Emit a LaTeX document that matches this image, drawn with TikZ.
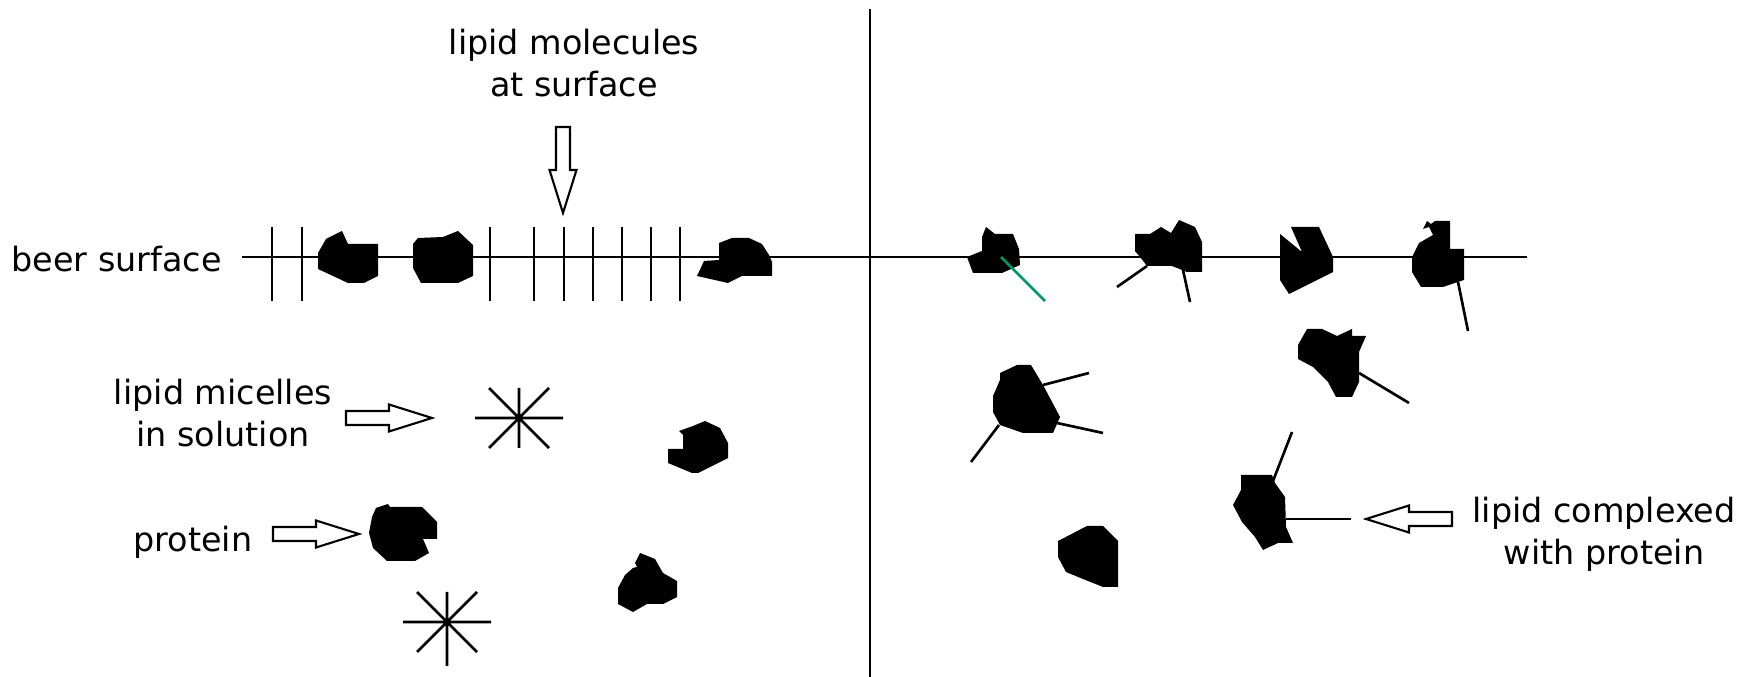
\documentclass[tikz,border=0pt]{standalone}
\usepackage{fontspec}
\setmainfont{DejaVu Sans}
\definecolor{tailgreen}{RGB}{0,153,102}

\begin{document}
\begin{tikzpicture}[x=0.01cm,y=-0.01cm,line width=0.75pt,
		lbl/.style={inner sep=0pt,align=center,font=\fontsize{9.5}{11.9}\selectfont},
		hollow/.pic={\draw[line width=0.6pt,fill=white] (0,0) -- (-43,-13.5) -- (-43,-7) -- (-86,-7) -- (-86,7) -- (-43,7) -- (-43,13.5) -- cycle;}]
	\useasboundingbox (0,0) rectangle (1743,677);
	
	\node[lbl,anchor=base east] (beer) at (223,272) {beer surface};
	\node[lbl] (micelles) at (223,413) {lipid micelles\\in solution};
	\node[lbl,anchor=base] (prot) at (193,552) {protein};
	\node[lbl] (molecules) at (574,63) {lipid molecules\\at surface};
	\node[lbl] (complexed) at (1604,534) {lipid complexed\\with protein};
	
	\draw (870,9) -- (870,677);
	\draw (242,257) -- (1527,257);
	\foreach \x in {272,302,490,534,564,593,622,651,680}
		\draw (\x,227) -- (\x,301);
	
	\pic[rotate=-90] at (563,213) {hollow};
	\pic at (432,418) {hollow};
	\pic at (359,534) {hollow};
	\pic[rotate=180] at (1366,519) {hollow};
	
	\foreach \x/\y/\b in {519/418/30,447/622/44}
		\draw (\x-44,\y) -- (\x+44,\y) (\x,\y-30) -- (\x,\y+\b)
			(\x-30,\y-30) -- (\x+30,\y+30) (\x-30,\y+30) -- (\x+30,\y-30);
	
	% left side
	\fill (318,253) -- (326,239) -- (342,231) -- (348,244) -- (378,244) -- (378,276) -- (364,283) -- (348,283) -- (318,269) -- cycle;
	\fill (413,244) -- (418,238) -- (443,237) -- (458,231) -- (473,245) -- (473,276) -- (458,283) -- (421,283) -- (413,268) -- cycle;
	\fill (719,243) -- (732,238) -- (749,238) -- (762,244) -- (769,255) -- (772,262) -- (772,276) -- (742,276) -- (728,283) -- (697,276) -- (704,261) -- (719,260) -- cycle;
	\fill (376,508) -- (388,504) -- (390,507) -- (422,507) -- (437,522) -- (437,539) -- (423,539) -- (429,553) -- (415,561) -- (387,561) -- (373,548) -- (369,533) -- (372,517) -- cycle;
	\fill (679,431) -- (693,426) -- (705,421) -- (720,428) -- (728,443) -- (728,458) -- (698,473) -- (692,473) -- (668,463) -- (668,449) -- (683,449) -- (683,435) -- cycle;
	\fill (640,553) -- (655,559) -- (663,573) -- (677,581) -- (677,597) -- (663,604) -- (647,604) -- (633,612) -- (618,604) -- (618,588) -- (625,575) -- (633,568) -- (637,567) -- (635,563) -- cycle;
	
	% right side
	\fill (967,257) -- (982,251) -- (982,237) -- (986,227) -- (995,234) -- (1013,234) -- (1019,249) -- (1020,265) -- (1002,273) -- (973,273) -- cycle;
	\draw[tailgreen] (1001,257) -- (1045,301);
	\fill (1135,234) -- (1150,234) -- (1161,227) -- (1171,233) -- (1179,220) -- (1195,227) -- (1202,242) -- (1202,272) -- (1187,272) -- (1172,266) -- (1147,266) -- (1140,257) -- (1135,251) -- cycle;
	\draw (1147,266) -- (1117,287);
	\draw (1183,270) -- (1190,302);
	\fill (1280,234) -- (1302,252) -- (1291,227) -- (1319,227) -- (1333,257) -- (1333,272) -- (1289,294) -- (1280,280) -- cycle;
	\fill (1435,221) -- (1450,221) -- (1450,249) -- (1464,249) -- (1464,280) -- (1443,287) -- (1421,287) -- (1412,272) -- (1412,257) -- (1419,243) -- (1433,235) -- (1429,227) -- (1423,229) -- (1427,221) -- (1431,224) -- cycle;
	\draw (1458,282) -- (1468,331);
	\fill (1000,373) -- (1017,365) -- (1031,365) -- (1043,385) -- (1060,417) -- (1053,433) -- (1023,433) -- (1000,425) -- (993,412) -- (993,396) -- (1000,380) -- cycle;
	\draw (1043,385) -- (1089,373);
	\draw (1057,423) -- (1103,433);
	\draw (999,425) -- (971,462);
	\fill (1058,541) -- (1087,526) -- (1103,526) -- (1118,541) -- (1118,587) -- (1103,587) -- (1083,579) -- (1066,572) -- (1058,557) -- cycle;
	\fill (1307,329) -- (1322,329) -- (1337,336) -- (1352,329) -- (1352,336) -- (1366,336) -- (1359,352) -- (1359,382) -- (1352,397) -- (1336,397) -- (1328,382) -- (1313,367) -- (1298,359) -- (1298,345) -- cycle;
	\draw (1359,373) -- (1409,403);
	\fill (1241,475) -- (1272,475) -- (1275,483) -- (1285,497) -- (1286,527) -- (1293,543) -- (1278,543) -- (1263,550) -- (1255,537) -- (1242,522) -- (1233,505) -- (1241,490) -- cycle;
	\draw (1273,481) -- (1292,432);
	\draw (1286,519) -- (1351,519);
\end{tikzpicture}
\end{document}
